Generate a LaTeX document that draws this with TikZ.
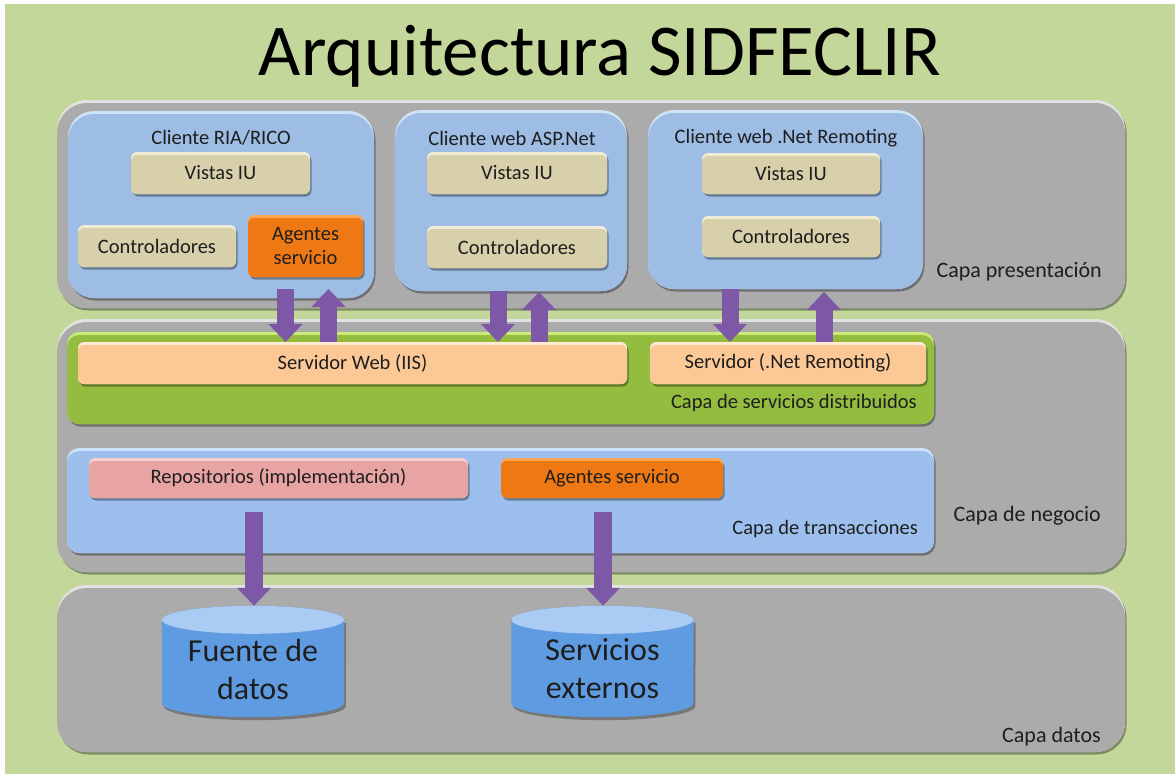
\documentclass[tikz,border=0pt]{standalone}
\usepackage{fontspec}
\setmainfont{Carlito}
\usetikzlibrary{shadows,arrows.meta,calc}
\definecolor{bggreen}{HTML}{C4D79B}
\definecolor{panelc}{HTML}{ABABAB}
\definecolor{panell}{HTML}{E2E2E2}
\definecolor{clientc}{HTML}{9DBDE4}
\definecolor{clientl}{HTML}{CFE3F7}
\definecolor{beigec}{HTML}{D8D0AA}
\definecolor{beigel}{HTML}{F1ECD6}
\definecolor{orangec}{HTML}{EE7814}
\definecolor{orangel}{HTML}{FAA650}
\definecolor{peachc}{HTML}{FCC896}
\definecolor{peachl}{HTML}{FFEBD6}
\definecolor{greenc}{HTML}{94BD40}
\definecolor{greenl}{HTML}{CBEB78}
\definecolor{transc}{HTML}{9CBFEE}
\definecolor{transl}{HTML}{CDE3FA}
\definecolor{pinkc}{HTML}{E8A4A2}
\definecolor{pinkl}{HTML}{F7CFCD}
\definecolor{cylbody}{HTML}{5F9BE0}
\definecolor{cyltop}{HTML}{A9CBF4}
\definecolor{arrowc}{HTML}{7D58A6}
\definecolor{txt}{HTML}{1E1E1E}
\tikzset{
  bev/.style n args={3}{fill=#1, rounded corners=#3,
    path picture={\fill[#2, rounded corners=#3]
      ([yshift=-3pt]path picture bounding box.south west) rectangle
      ([yshift=-3pt]path picture bounding box.north east);}},
  shad/.style={drop shadow={shadow xshift=1.5pt, shadow yshift=-2.5pt, opacity=.35, fill=black}},
  box/.style={inner sep=0pt, outer sep=0pt, align=center, text=txt,
    font=\fontsize{20.5}{24}\selectfont},
  panel/.style={box, shad, bev={panell}{panelc}{30pt}},
  client/.style={box, shad, bev={clientl}{clientc}{26pt}},
  beige/.style={box, shad, bev={beigel}{beigec}{6pt}, minimum height=42pt},
  orangebox/.style={box, shad, bev={orangel}{orangec}{6pt}},
  peach/.style={box, shad, bev={peachl}{peachc}{6pt}, minimum height=42pt},
  pinkbox/.style={box, shad, bev={pinkl}{pinkc}{6pt}, minimum height=40pt},
  greenlayer/.style={box, shad, bev={greenl}{greenc}{12pt}},
  translayer/.style={box, shad, bev={transl}{transc}{12pt}},
  lbl/.style={inner sep=0pt, text=txt, font=\fontsize{20.5}{24}\selectfont},
  layerlbl/.style={inner sep=0pt, text=txt, font=\fontsize{22}{26}\selectfont, anchor=east},
  fat/.style={draw=arrowc, line width=17pt, -{Triangle[width=33pt,length=18pt]}},
  cyl/.style={inner sep=0pt, minimum width=182pt, minimum height=111pt},
  cyltext/.style={inner sep=0pt, align=center, text=txt, font=\fontsize{32}{38}\selectfont},
}
\begin{document}
\begin{tikzpicture}[x=1pt,y=-1pt]
\useasboundingbox (0,0) rectangle (1175,774);
\fill[white] (0,0) rectangle (1175,774);
\fill[bggreen] (5,4) rectangle (1175,774);

% title
\node[inner sep=0pt, anchor=base, font=\fontsize{73}{80}\selectfont] (title) at (600,75) {Arquitectura SIDFECLIR};

% layer panels
\node[panel, minimum width=1068pt, minimum height=208pt] (P1) at (591,204) {};
\node[panel, minimum width=1068pt, minimum height=253pt] (P2) at (591,445.5) {};
\node[panel, minimum width=1068pt, minimum height=167pt] (P3) at (591,668.5) {};

\node[layerlbl] (L1) at (1102,272) {Capa presentación};
\node[layerlbl] (L2) at (1101,516) {Capa de negocio};
\node[layerlbl] (L3) at (1101,737) {Capa datos};

% clients
\node[client, minimum width=306pt, minimum height=187pt] (C1) at (221,204.5) {};
\node[client, minimum width=232pt, minimum height=181pt] (C2) at (511,200.5) {};
\node[client, minimum width=275pt, minimum height=179pt] (C3) at (785.5,199.5) {};

\node[lbl] (T1) at (221,138) {Cliente RIA/RICO};
\node[lbl] (T2) at (512,138) {Cliente web ASP.Net};
\node[lbl] (T3) at (786,138) {Cliente web .Net Remoting};

\node[beige, minimum width=179pt] (V1) at (220.5,173) {Vistas IU};
\node[beige, minimum width=158pt] (K1) at (157,246) {Controladores};
\node[orangebox, minimum width=115pt, minimum height=62pt] (A1) at (305.5,246) {Agentes\\servicio};

\node[beige, minimum width=180pt] (V2) at (517,173) {Vistas IU};
\node[beige, minimum width=180pt] (K2) at (517,247) {Controladores};

\node[beige, minimum width=178pt, minimum height=41pt] (V3) at (791,173.5) {Vistas IU};
\node[beige, minimum width=178pt, minimum height=41pt] (K3) at (791,236.5) {Controladores};

% distributed services layer
\node[greenlayer, minimum width=867pt, minimum height=92pt] (G) at (500.5,378) {};
\node[peach, minimum width=549pt] (S1) at (352.5,363) {Servidor Web (IIS)};
\node[peach, minimum width=276pt] (S2) at (788,363) {Servidor (.Net Remoting)};
\node[lbl, anchor=east] (GL) at (917,403) {Capa de servicios distribuidos};

% transactions layer
\node[translayer, minimum width=867pt, minimum height=105pt] (T) at (500.5,500.5) {};
\node[pinkbox, minimum width=379pt] (R) at (278.5,478) {Repositorios (implementación)};
\node[orangebox, minimum width=222pt, minimum height=40pt] (A2) at (612,478) {Agentes servicio};
\node[lbl, anchor=east] (TL) at (918,529) {Capa de transacciones};

% data stores
\node[cyl] (D1) at (253,661.5) {};
\node[cyl] (D2) at (602.5,661.5) {};
\foreach \d in {D1,D2}{
  \fill[black, opacity=.3] ($(\d.north west)+(2,17)$) -- ($(\d.south west)+(2,-11)$)
     arc[start angle=180,end angle=360,x radius=91pt,y radius=14pt]
     -- ($(\d.north east)+(2,17)$) -- cycle;
  \fill[cylbody] ($(\d.north west)+(0,14)$) -- ($(\d.south west)+(0,-14)$)
     arc[start angle=180,end angle=360,x radius=91pt,y radius=14pt]
     -- ($(\d.north east)+(0,14)$)
     arc[start angle=0,end angle=180,x radius=91pt,y radius=14pt] -- cycle;
  \fill[cyltop] ($(\d.north)+(0,14)$) ellipse [x radius=91pt, y radius=14pt];
}
\node[cyltext] (D1t) at (253,669) {Fuente de\\datos};
\node[cyltext] (D2t) at (602.5,669) {Servicios\\externos};

% arrows presentation <-> services
\coordinate (d1) at (285.5,289);
\coordinate (u1) at (328.5,289);
\coordinate (d2) at (498,291);
\coordinate (u2) at (539,292);
\coordinate (d3) at (730,289);
\coordinate (u3) at (824,292);
\draw[fat] (d1) -- (d1 |- S1.north);
\draw[fat] (u1 |- S1.north) -- (u1);
\draw[fat] (d2) -- (d2 |- S1.north);
\draw[fat] (u2 |- S1.north) -- (u2);
\draw[fat] (d3) -- (d3 |- S2.north);
\draw[fat] (u3 |- S2.north) -- (u3);

% arrows transactions -> data
\coordinate (b1) at (254,512);
\coordinate (b2) at (603,512);
\draw[fat, line width=18pt] (b1) -- (b1 |- D1.north);
\draw[fat, line width=18pt] (b2) -- (b2 |- D2.north);
\end{tikzpicture}
\end{document}
